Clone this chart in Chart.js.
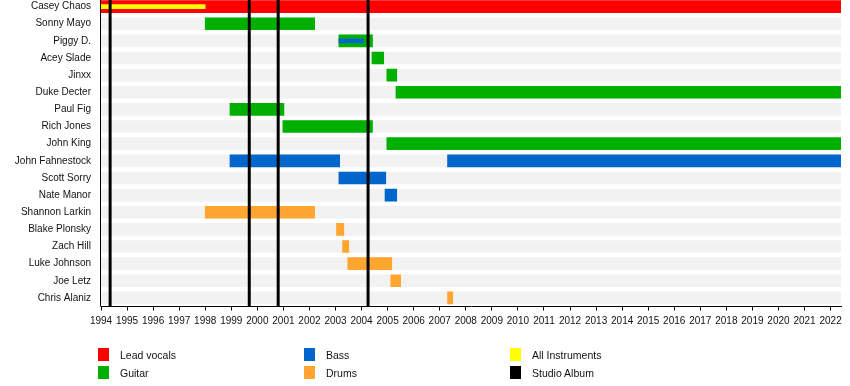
<!DOCTYPE html>
<html>
<head>
<meta charset="utf-8">
<script src="https://cdn.jsdelivr.net/npm/chart.js@4"></script>
<style>
    body { margin: 0; background: #fff; overflow: hidden; width: 850px; height: 386px; position: relative; }
    #timeline { position: absolute; left: 0; top: -2px; }
    .key { position: absolute; font: 10.5px "Liberation Sans", Arial, sans-serif; color: #111; line-height: 13px; }
    .key span { position: absolute; left: 0; top: 0; width: 11px; height: 13px; }
    .key b { font-weight: normal; position: absolute; left: 22px; top: 1px; white-space: nowrap; }
</style>
</head>
<body>
<canvas id="timeline" width="850" height="388"></canvas>
<div id="legend"></div>
<script>
// band members, top to bottom
const members = ['Casey Chaos', 'Sonny Mayo', 'Piggy D.', 'Acey Slade', 'Jinxx', 'Duke Decter',
    'Paul Fig', 'Rich Jones', 'John King', 'John Fahnestock', 'Scott Sorry', 'Nate Manor',
    'Shannon Larkin', 'Blake Plonsky', 'Zach Hill', 'Luke Johnson', 'Joe Letz', 'Chris Alaniz'];

const startYear = 1994;
const endYear = 2022.4;

// [member, from, to]
const leadVocals = [['Casey Chaos', 1994, 2022.4]];
const allInstruments = [['Casey Chaos', 1994, 1998]];
const guitar = [
    ['Sonny Mayo', 1998, 2002.2],
    ['Piggy D.', 2003.13, 2004.42],
    ['Acey Slade', 2004.4, 2004.85],
    ['Jinxx', 2004.97, 2005.35],
    ['Duke Decter', 2005.32, 2022.4],
    ['Paul Fig', 1998.95, 2001.02],
    ['Rich Jones', 2000.98, 2004.42],
    ['John King', 2004.97, 2022.4]
];
const bass = [
    ['John Fahnestock', 1998.95, 2003.16],
    ['John Fahnestock', 2007.3, 2022.4],
    ['Scott Sorry', 2003.13, 2004.93],
    ['Nate Manor', 2004.9, 2005.35]
];
const bassSecondary = [['Piggy D.', 2003.13, 2004.08]];
const drums = [
    ['Shannon Larkin', 1998, 2002.2],
    ['Blake Plonsky', 2003.04, 2003.32],
    ['Zach Hill', 2003.27, 2003.51],
    ['Luke Johnson', 2003.47, 2005.16],
    ['Joe Letz', 2005.12, 2005.5],
    ['Chris Alaniz', 2007.3, 2007.5]
];
const albums = [1994.35, 1999.69, 2000.8, 2004.25];

const yearTicks = [1994, 1995, 1996, 1997, 1998, 1999, 2000, 2001, 2002, 2003, 2004, 2005,
    2006, 2007, 2008, 2009, 2010, 2011, 2012, 2013, 2014, 2015, 2016, 2017, 2018, 2019,
    2020, 2021, 2022];

const colors = {
    vocals: '#ff0000',
    guitar: '#00b000',
    bass: '#0066cc',
    drums: '#ffa530',
    all: '#ffff00',
    album: '#000000',
    row: '#f2f2f2'
};

const legendItems = [
    ['Lead vocals', colors.vocals, 98, 348],
    ['Guitar', colors.guitar, 98, 366],
    ['Bass', colors.bass, 304, 348],
    ['Drums', colors.drums, 304, 366],
    ['All Instruments', colors.all, 510, 348],
    ['Studio Album', colors.album, 510, 366]
];

function toBars(rows) {
    return rows.map(r => ({ y: r[0], x: [r[1], r[2]] }));
}

function barSet(rows, color, thickness, order) {
    return {
        data: toBars(rows),
        backgroundColor: color,
        barThickness: thickness,
        grouped: false,
        borderSkipped: false,
        order: order
    };
}

const rowBackground = members.map(m => [m, startYear, endYear]);

// left axis line and vertical lines for studio albums
const albumLines = {
    id: 'albumLines',
    afterDatasetsDraw(chart) {
        const { ctx, chartArea, scales } = chart;
        ctx.save();
        ctx.strokeStyle = '#000';
        ctx.lineWidth = 1;
        ctx.beginPath();
        ctx.moveTo(chartArea.left - 0.5, chartArea.top);
        ctx.lineTo(chartArea.left - 0.5, chartArea.bottom);
        ctx.stroke();

        ctx.strokeStyle = colors.album;
        ctx.lineWidth = 3;
        albums.forEach(a => {
            const px = scales.x.getPixelForValue(a);
            ctx.beginPath();
            ctx.moveTo(px, chartArea.top);
            ctx.lineTo(px, chartArea.bottom);
            ctx.stroke();
        });
        ctx.restore();
    }
};

const fontSpec = { family: '"Liberation Sans", Arial, sans-serif', size: 10 };

new Chart(document.getElementById('timeline').getContext('2d'), {
    type: 'bar',
    data: {
        labels: members,
        datasets: [
            barSet(rowBackground, colors.row, 12, 10),
            barSet(leadVocals, colors.vocals, 12, 5),
            barSet(guitar, colors.guitar, 12, 5),
            barSet(bass, colors.bass, 12, 5),
            barSet(drums, colors.drums, 12, 5),
            barSet(allInstruments, colors.all, 4, 1),
            barSet(bassSecondary, colors.bass, 4, 1)
        ]
    },
    options: {
        indexAxis: 'y',
        responsive: false,
        animation: false,
        devicePixelRatio: 1,
        layout: { padding: { left: 0, right: 9, top: 0, bottom: 59.5 } },
        plugins: {
            legend: { display: false },
            tooltip: { enabled: false }
        },
        scales: {
            x: {
                type: 'linear',
                min: startYear,
                max: endYear,
                afterBuildTicks: scale => { scale.ticks = yearTicks.map(v => ({ value: v })); },
                afterFit: scale => {
                    scale.height = 20;
                    scale.paddingLeft = 0;
                    scale.paddingRight = 0;
                },
                grid: { drawOnChartArea: false, drawTicks: true, tickLength: 4, color: '#000' },
                border: { display: true, color: '#000', width: 1 },
                ticks: {
                    font: fontSpec,
                    color: '#111',
                    padding: 5,
                    maxRotation: 0,
                    autoSkip: false,
                    callback: v => String(v)
                }
            },
            y: {
                afterFit: scale => {
                    scale.width = 101;
                    scale.paddingTop = 0;
                    scale.paddingBottom = 0;
                },
                grid: { display: false, drawTicks: false },
                border: { display: false },
                ticks: { font: fontSpec, color: '#111', padding: 10, autoSkip: false }
            }
        }
    },
    plugins: [albumLines]
});

const legend = document.getElementById('legend');
legendItems.forEach(([label, color, x, y]) => {
    const el = document.createElement('div');
    el.className = 'key';
    el.style.left = x + 'px';
    el.style.top = y + 'px';
    el.innerHTML = '<span style="background:' + color + '"></span><b>' + label + '</b>';
    legend.appendChild(el);
});
</script>
</body>
</html>
